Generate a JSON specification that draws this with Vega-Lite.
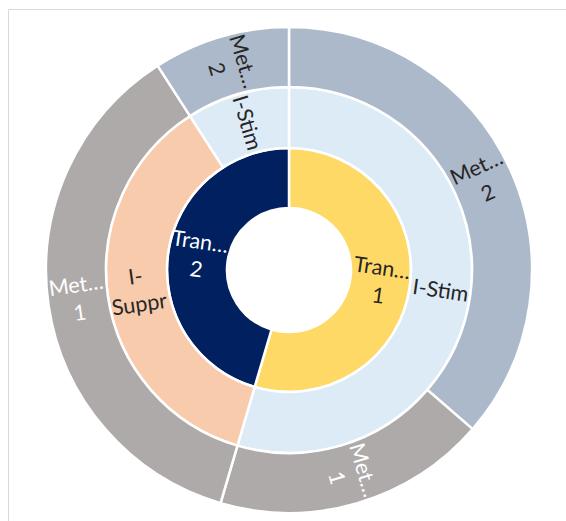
{
  "$schema": "https://vega.github.io/schema/vega-lite/v6.json",
  "width": 562,
  "height": 522,
  "autosize": "none",
  "padding": {"left": 8, "top": 9, "right": -4, "bottom": -10},
  "background": "white",
  "view": {"stroke": "#d9d9d9", "strokeWidth": 1, "fill": "white"},
  "config": {
    "text": {"lineBreak": "\n", "font": "Lato", "fontSize": 21.5, "lineHeight": 28}
  },
  "data": {
    "values": [
      {"Tran": "Tran…\n1", "Stim": "I-Stim", "Met": "Met…\n2", "n": 4},
      {"Tran": "Tran…\n1", "Stim": "I-Stim", "Met": "Met…\n1", "n": 2},
      {"Tran": "Tran…\n2", "Stim": "I-\nSuppr", "Met": "Met…\n1", "n": 4},
      {"Tran": "Tran…\n2", "Stim": "I-Stim", "Met": "Met…\n2", "n": 1}
    ]
  },
  "transform": [
    {"window": [{"op": "row_number", "as": "k"}]}
  ],
  "layer": [
    {
      "transform": [
        {"aggregate": [{"op": "sum", "field": "n", "as": "n"}, {"op": "min", "field": "k", "as": "k"}], "groupby": ["Tran"]}
      ],
      "encoding": {
        "theta": {"field": "n", "type": "quantitative", "stack": true},
        "order": {"field": "k", "type": "quantitative"}
      },
      "layer": [
        {
          "mark": {"type": "arc", "radius": 122, "radius2": 62, "stroke": "white", "strokeWidth": 2.5},
          "encoding": {
            "color": {
              "field": "Tran", "type": "nominal", "legend": null,
              "scale": {"domain": ["Tran…\n1", "Tran…\n2"], "range": ["#FFD966", "#002060"]}
            }
          }
        },
        {
          "mark": {"type": "text", "radius": 92, "angle": 8.2, "dy": -14},
          "encoding": {
            "detail": {"field": "Tran"},
            "text": {"field": "Tran"},
            "color": {
              "condition": {"test": "indexof(datum.Tran, '2') >= 0", "value": "#ffffff"},
              "value": "#262626"
            }
          }
        }
      ]
    },
    {
      "transform": [
        {"aggregate": [{"op": "sum", "field": "n", "as": "n"}, {"op": "min", "field": "k", "as": "k"}], "groupby": ["Tran", "Stim"]}
      ],
      "encoding": {
        "theta": {"field": "n", "type": "quantitative", "stack": true},
        "order": {"field": "k", "type": "quantitative"}
      },
      "layer": [
        {
          "mark": {"type": "arc", "radius": 183, "radius2": 122, "stroke": "white", "strokeWidth": 2.5},
          "encoding": {
            "detail": {"field": "Tran"},
            "color": {
              "field": "Stim", "type": "nominal", "legend": null,
              "scale": {"domain": ["I-Stim", "I-\nSuppr"], "range": ["#DDEBF7", "#F8CBAD"]}
            }
          }
        },
        {
          "mark": {"type": "text", "radius": 153, "color": "#262626"},
          "encoding": {
            "detail": [{"field": "Tran"}, {"field": "Stim"}],
            "text": {"field": "Stim"},
            "opacity": {
              "condition": {"test": "indexof(datum.Stim, 'Suppr') >= 0", "value": 0},
              "value": 1
            },
            "angle": {
              "condition": {"test": "indexof(datum.Tran, '2') >= 0", "value": 73.6},
              "value": 8.2
            }
          }
        },
        {
          "mark": {"type": "text", "radius": 153, "color": "#262626", "angle": -8.2, "dy": -14},
          "encoding": {
            "detail": [{"field": "Tran"}, {"field": "Stim"}],
            "text": {"field": "Stim"},
            "opacity": {
              "condition": {"test": "indexof(datum.Stim, 'Suppr') >= 0", "value": 1},
              "value": 0
            }
          }
        }
      ]
    },
    {
      "encoding": {
        "theta": {"field": "n", "type": "quantitative", "stack": true},
        "order": {"field": "k", "type": "quantitative"}
      },
      "layer": [
        {
          "mark": {"type": "arc", "radius": 243, "radius2": 183, "stroke": "white", "strokeWidth": 2.5},
          "encoding": {
            "detail": [{"field": "Tran"}, {"field": "Stim"}],
            "color": {
              "field": "Met", "type": "nominal", "legend": null,
              "scale": {"domain": ["Met…\n1", "Met…\n2"], "range": ["#AEAAAA", "#ACB9CA"]}
            }
          }
        },
        {
          "mark": {"type": "text", "radius": 213, "dy": -14},
          "encoding": {
            "detail": [{"field": "Tran"}, {"field": "Stim"}, {"field": "Met"}],
            "text": {"field": "Met"},
            "color": {
              "condition": {"test": "indexof(datum.Met, '1') >= 0", "value": "#ffffff"},
              "value": "#262626"
            },
            "angle": {
              "condition": [
                {"test": "indexof(datum.Tran, '1') >= 0 && indexof(datum.Met, '2') >= 0", "value": -24.5},
                {"test": "indexof(datum.Tran, '2') >= 0 && indexof(datum.Met, '1') >= 0", "value": -8.2}
              ],
              "value": 73.6
            }
          }
        }
      ]
    }
  ],
  "resolve": {"scale": {"color": "independent"}}
}
